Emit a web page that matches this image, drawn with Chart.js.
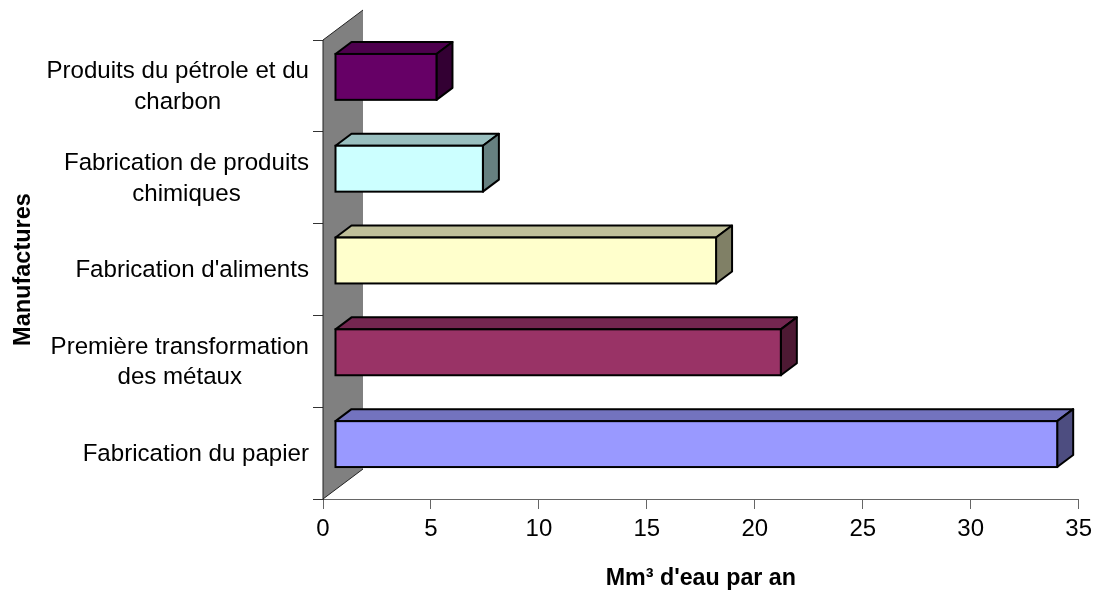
<!DOCTYPE html>
<html lang="fr">
<head>
<meta charset="UTF-8">
<title>Manufactures</title>
<script src="https://cdn.jsdelivr.net/npm/chart.js@4.4.0"></script>
<style>
  html, body { margin: 0; padding: 0; background: #fff; }
  canvas { display: block; }
</style>
</head>
<body>
<canvas id="chart" width="1098" height="590"></canvas>
<script>
// data, top bar first
const categories = [
  ["Produits du pétrole et du", "charbon"],
  ["Fabrication de produits", "chimiques"],
  ["Fabrication d'aliments"],
  ["Première transformation", "des métaux"],
  ["Fabrication du papier"]
];
const values = [4.7, 6.85, 17.65, 20.65, 33.45];
const frontColors = ["#660066", "#CCFFFF", "#FFFFCC", "#993366", "#9999FF"];
const topColors = ["#4D004D", "#99BFBF", "#BFBF99", "#732650", "#7373BF"];
const sideColors = ["#330033", "#668080", "#808066", "#4D1933", "#4D4D80"];
const xTicks = [0, 5, 10, 15, 20, 25, 30, 35];
const xTitle = "Mm³ d'eau par an";
const yTitle = "Manufactures";

const FONT = '"Liberation Sans", Arial, sans-serif';
const WALL_DX = 40, WALL_DY = -30;   // depth of the grey wall
const BAR_DX = 12, BAR_DY = -9;      // where the bar front sits in the depth
const FACE_DX = 16, FACE_DY = -12;   // depth of the bar itself

function poly(ctx, pts, fill) {
  ctx.beginPath();
  pts.forEach((p, i) => i ? ctx.lineTo(p[0], p[1]) : ctx.moveTo(p[0], p[1]));
  ctx.closePath();
  ctx.fillStyle = fill;
  ctx.fill();
  ctx.stroke();
}

const fake3d = {
  id: "fake3d",
  beforeDatasetsDraw(chart) {
    const { ctx, chartArea: a } = chart;
    ctx.save();
    ctx.beginPath();
    ctx.moveTo(a.left, a.top);
    ctx.lineTo(a.left + WALL_DX, a.top + WALL_DY);
    ctx.lineTo(a.left + WALL_DX, a.bottom + WALL_DY);
    ctx.lineTo(a.left, a.bottom);
    ctx.closePath();
    ctx.fillStyle = "#808080";
    ctx.fill();
    // only the slanted edges and the front edge have a line
    ctx.strokeStyle = "#222";
    ctx.lineWidth = 1;
    ctx.beginPath();
    ctx.moveTo(a.left + WALL_DX, a.top + WALL_DY);
    ctx.lineTo(a.left, a.top);
    ctx.lineTo(a.left, a.bottom);
    ctx.lineTo(a.left + WALL_DX, a.bottom + WALL_DY);
    ctx.stroke();
    ctx.restore();
  },
  beforeDatasetDraw(chart) {
    const ctx = chart.ctx;
    ctx.save();
    ctx.strokeStyle = "#000";
    ctx.lineWidth = 2;
    ctx.lineJoin = "round";
    chart.getDatasetMeta(0).data.forEach((bar, i) => {
      const l = bar.base + BAR_DX, r = bar.x + BAR_DX;
      const t = bar.y - bar.height / 2 + BAR_DY, b = bar.y + bar.height / 2 + BAR_DY;
      poly(ctx, [[l, t], [l + FACE_DX, t + FACE_DY], [r + FACE_DX, t + FACE_DY], [r, t]], topColors[i]);
      poly(ctx, [[r, t], [r + FACE_DX, t + FACE_DY], [r + FACE_DX, b + FACE_DY], [r, b]], sideColors[i]);
    });
    ctx.restore();
    // front face is drawn by the library, just moved into the depth
    ctx.save();
    ctx.translate(BAR_DX, BAR_DY);
  },
  afterDatasetDraw(chart) {
    const ctx = chart.ctx;
    ctx.strokeStyle = "#000";
    ctx.lineWidth = 2;
    chart.getDatasetMeta(0).data.forEach(bar => {
      ctx.strokeRect(bar.base, bar.y - bar.height / 2, bar.x - bar.base, bar.height);
    });
    ctx.restore();
  },
  afterDraw(chart) {
    const { ctx, chartArea: a } = chart;
    const yScale = chart.scales.y;
    ctx.save();
    ctx.fillStyle = "#000";
    // category labels: block ends at the right, lines centred inside it
    ctx.font = "24.1px " + FONT;
    ctx.textAlign = "center";
    ctx.textBaseline = "middle";
    categories.forEach((lines, i) => {
      const w = Math.max(...lines.map(s => ctx.measureText(s).width));
      const cx = a.left - 14 - w / 2;
      const cy = yScale.getPixelForValue(i) + 1;
      lines.forEach((s, k) => {
        ctx.fillText(s, cx, cy + (k - (lines.length - 1) / 2) * 30.5);
      });
    });
    ctx.restore();
  }
};

new Chart(document.getElementById("chart"), {
  type: "bar",
  plugins: [fake3d],
  data: {
    labels: categories,
    datasets: [{
      data: values,
      backgroundColor: frontColors,
      borderWidth: 0,
      barPercentage: 0.5,
      categoryPercentage: 1,
      clip: false
    }]
  },
  options: {
    indexAxis: "y",
    responsive: false,
    animation: false,
    layout: { padding: { top: 40, right: 18, left: 0, bottom: 0 } },
    plugins: { legend: { display: false }, tooltip: { enabled: false } },
    scales: {
      x: {
        min: 0,
        max: 35,
        afterFit: s => { s.height = 91; },
        afterBuildTicks: s => { s.ticks = xTicks.map(v => ({ value: v })); },
        grid: { drawOnChartArea: false, tickLength: 10, color: "#666" },
        border: { color: "#666" },
        ticks: { color: "#000", font: { family: FONT, size: 24 }, maxRotation: 0, padding: 6 },
        title: {
          display: true,
          text: xTitle,
          color: "#000",
          padding: 0,
          font: { family: FONT, size: 23.25, weight: "bold", lineHeight: 1 }
        }
      },
      y: {
        afterFit: s => { s.width = 323; },
        grid: { drawOnChartArea: false, offset: true, tickLength: 10, color: "#333" },
        border: { color: "#333" },
        ticks: { display: false },
        title: {
          display: true,
          text: yTitle,
          color: "#000",
          padding: { top: 12, bottom: 12 },
          font: { family: FONT, size: 23.5, weight: "bold", lineHeight: 1 }
        }
      }
    }
  }
});
</script>
</body>
</html>
